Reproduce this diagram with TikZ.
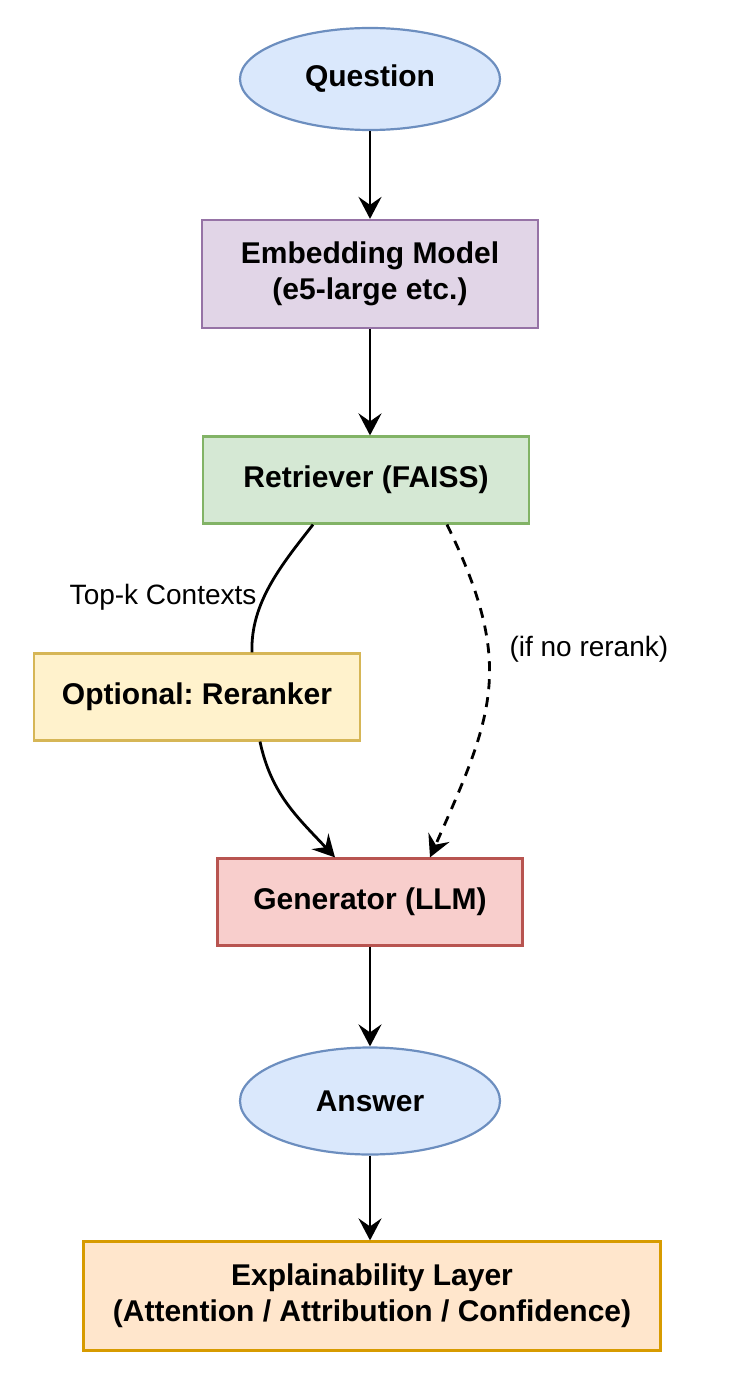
\documentclass[tikz,border=0pt]{standalone}
\usepackage{fontspec}
\setmainfont{Liberation Sans}
\usepackage{xcolor}
\usepackage{tikz}
\usetikzlibrary{arrows.meta,shapes.geometric}

\definecolor{qfill}{HTML}{DAE8FC}
\definecolor{qline}{HTML}{6C8EBF}
\definecolor{efill}{HTML}{E1D5E7}
\definecolor{eline}{HTML}{9673A6}
\definecolor{rfill}{HTML}{D5E8D4}
\definecolor{rline}{HTML}{82B366}
\definecolor{kfill}{HTML}{FFF2CC}
\definecolor{kline}{HTML}{D6B656}
\definecolor{gfill}{HTML}{F8CECC}
\definecolor{gline}{HTML}{B85450}
\definecolor{xfill}{HTML}{FFE6CC}
\definecolor{xline}{HTML}{D79B00}

\begin{document}
\frenchspacing
\begin{tikzpicture}[
        x=0.5pt, y=-0.5pt,
        base/.style={line width=1.1pt, align=center, inner sep=0pt, font=\fontsize{15}{18}\selectfont\bfseries},
        term/.style={base, ellipse, draw=qline, fill=qfill, minimum width=130pt, minimum height=51pt},
        stage/.style={base, rectangle, minimum height=43.5pt},
        flow/.style={-{Stealth[length=11pt, width=11.5pt, inset=4pt]}, line width=1.4pt, black},
        guard/.style={font=\fontsize{14}{16}\selectfont, inner sep=2pt}
    ]
        \useasboundingbox (0,0) rectangle (728,1396);

        \node[term] (question) at (370,79) {Question};
        \node[stage, draw=eline, fill=efill, minimum width=168pt, minimum height=54pt] (embed) at (370,274) {Embedding Model\\(e5-large etc.)};
        \node[stage, draw=rline, fill=rfill, minimum width=163pt] (retriever) at (366,480) {Retriever (FAISS)};
        \node[stage, draw=kline, fill=kfill, minimum width=163pt] (reranker) at (197,697) {Optional: Reranker};
        \node[stage, draw=gline, fill=gfill, minimum width=152.5pt] (generator) at (370,902) {Generator (LLM)};
        \node[term, minimum height=53.5pt] (answer) at (370,1101) {Answer};
        \node[stage, draw=xline, fill=xfill, minimum width=288.5pt, minimum height=54.5pt] (explain) at (372,1296) {Explainability Layer\\(Attention / Attribution / Confidence)};

        \draw[flow] (question.south) -- (embed.north);
        \draw[flow] (embed.south) -- (embed.south |- retriever.north);
        \draw[line width=1.4pt] ([xshift=-26.5pt]retriever.south) to[out=232, in=92, looseness=0.9]
            node[guard, pos=0.6, anchor=east, xshift=-1pt] {Top-k Contexts} ([xshift=27.5pt]reranker.north);
        \draw[flow] ([xshift=31.5pt]reranker.south) to[out=-78, in=133] ([xshift=-17.5pt]generator.north);
        \draw[flow, dash pattern=on 5pt off 4pt] ([xshift=40.5pt]retriever.south) to[out=-64, in=66, looseness=1.2]
            node[guard, pos=0.36, anchor=west, xshift=8pt] {(if no rerank)} ([xshift=30pt]generator.north);
        \draw[flow] (generator.south) -- (answer.north);
        \draw[flow] (answer.south) -- (answer.south |- explain.north);
    \end{tikzpicture}
\end{document}
